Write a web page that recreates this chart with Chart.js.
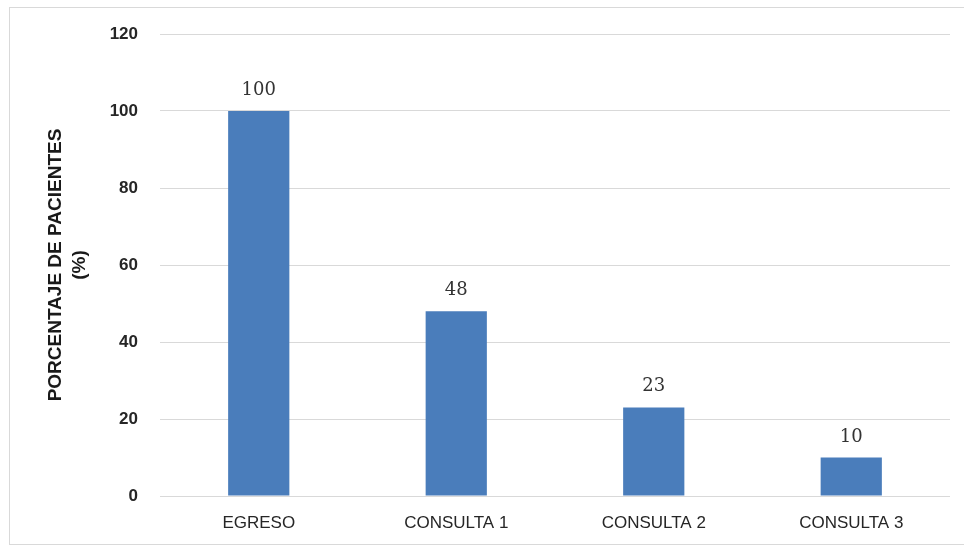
<!DOCTYPE html>
<html lang="es">
<head>
  <meta charset="UTF-8">
  <title>Porcentaje de pacientes</title>
  <script src="https://cdn.jsdelivr.net/npm/chart.js"></script>
  <style>
    * { margin: 0; padding: 0; box-sizing: border-box; }
    body { width: 964px; height: 550px; background: #fff; position: relative; overflow: hidden; }
    .frame {
      position: absolute; left: 9px; top: 7px; width: 980px; height: 538px;
      border: 1px solid #d9d9d9;
    }
    #chart { position: absolute; left: 0; top: 0; }
  </style>
</head>
<body>
  <div class="frame"></div>
  <canvas id="chart" width="964" height="550"></canvas>

  <script>
    // data
    const categories = ['EGRESO', 'CONSULTA 1', 'CONSULTA 2', 'CONSULTA 3'];
    const porcentajes = [100, 48, 23, 10];
    const yTicks = [0, 20, 40, 60, 80, 100, 120];

    // value labels above each bar
    const valueLabels = {
      id: 'valueLabels',
      afterDatasetsDraw(chart) {
        const ctx = chart.ctx;
        const meta = chart.getDatasetMeta(0);
        ctx.save();
        ctx.font = '18px "DejaVu Serif", serif';
        ctx.fillStyle = '#333333';
        ctx.textAlign = 'center';
        ctx.textBaseline = 'alphabetic';
        meta.data.forEach((bar, i) => {
          ctx.fillText(String(porcentajes[i]), bar.x, bar.y - 16);
        });
        ctx.restore();
      }
    };

    new Chart(document.getElementById('chart'), {
      type: 'bar',
      data: {
        labels: categories,
        datasets: [{
          data: porcentajes,
          backgroundColor: '#4a7dbb',
          barPercentage: 1,
          categoryPercentage: 0.31
        }]
      },
      options: {
        responsive: false,
        animation: false,
        layout: { padding: { left: 0, right: 14, top: 34, bottom: 0 } },
        plugins: { legend: { display: false }, tooltip: { enabled: false } },
        scales: {
          x: {
            grid: { display: false },
            border: { display: false },
            ticks: {
              color: '#262626',
              font: { family: '"Liberation Sans", Arial, sans-serif', size: 17 },
              padding: 9,
              maxRotation: 0
            },
            afterFit(axis) { axis.height = 54; }
          },
          y: {
            min: 0,
            max: 120,
            afterBuildTicks(axis) { axis.ticks = yTicks.map(v => ({ value: v })); },
            grid: { color: '#d9d9d9', lineWidth: 1, drawTicks: false },
            border: { display: false },
            ticks: {
              color: '#262626',
              font: { family: '"Liberation Sans", Arial, sans-serif', size: 17, weight: 'bold' },
              padding: 22
            },
            title: {
              display: true,
              text: ['PORCENTAJE DE PACIENTES', '(%)'],
              color: '#1a1a1a',
              font: { family: '"Liberation Sans", Arial, sans-serif', size: 19, weight: 'bold', lineHeight: 1.3 },
              padding: { top: 43, bottom: 0 }
            },
            afterFit(axis) { axis.width = 160; }
          }
        }
      },
      plugins: [valueLabels]
    });
  </script>
</body>
</html>
